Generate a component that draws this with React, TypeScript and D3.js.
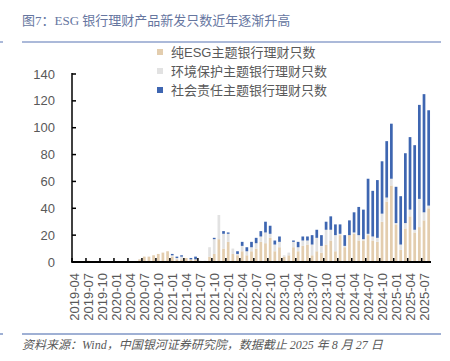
import React from "react";
import * as d3 from "d3";

// Months 2019-04 .. 2025-08
const months: string[] = [];
for (let y = 2019; y <= 2025; y++) {
  for (let m = 1; m <= 12; m++) {
    if (y === 2019 && m < 4) continue;
    if (y === 2025 && m > 8) continue;
    months.push(`${y}-${m < 10 ? "0" + m : m}`);
  }
}

// 纯ESG主题银行理财只数
const pureESG = [
  0, 0, 0, 1, 0, 0, 0, 0, 0, 0, 0, 0, 0, 0, 2, 4, 4, 5, 6, 7,
  8, 4, 2, 2, 3, 2, 2, 0, 0, 4, 6, 17, 10, 15, 6, 5, 8, 5, 8, 10,
  15, 14, 18, 8, 11, 4, 5, 11, 8, 12, 13, 5, 8, 7, 13, 16, 8, 20, 11, 20,
  21, 16, 16, 20, 16, 15, 30, 45, 57, 28, 9, 25, 34, 22, 26, 31, 40,
];
// 环境保护主题银行理财只数
const envProtect = [
  0, 0, 0, 0, 0, 0, 0, 0, 0, 0, 0, 0, 0, 0, 0, 0, 0, 0, 0, 0,
  0, 1, 1, 2, 0, 0, 0, 1, 1, 7, 11, 18, 11, 6, 4, 1, 4, 3, 3, 4,
  4, 8, 3, 5, 4, 1, 2, 4, 3, 4, 3, 8, 10, 5, 11, 8, 12, 1, 1, 0,
  1, 4, 1, 1, 3, 3, 6, 3, 5, 1, 4, 4, 5, 2, 21, 6, 2,
];
// 社会责任主题银行理财只数
const socialResp = [
  0, 0, 0, 0, 0, 0, 0, 0, 0, 0, 0, 0, 0, 0, 0, 0, 0, 0, 0, 0,
  0, 1, 1, 1, 0, 1, 2, 0, 0, 0, 1, 0, 2, 1, 0, 2, 3, 3, 4, 4,
  4, 8, 6, 3, 4, 0, 0, 1, 4, 3, 3, 7, 6, 8, 6, 10, 8, 7, 8, 11,
  15, 21, 22, 41, 34, 43, 39, 42, 41, 27, 36, 52, 54, 63, 70, 88, 71,
];

const seriesNames = ["纯ESG主题银行理财只数", "环境保护主题银行理财只数", "社会责任主题银行理财只数"];
const seriesKeys = ["pure", "env", "social"];
const seriesColors = ["#e3cdae", "#e2e2e2", "#3e66b1"];
const yTicks = [0, 20, 40, 60, 80, 100, 120, 140];

const W = 450;
const H = 361;
const L = 72;
const R = 431;
const T = 74;
const B = 262;

export default function App() {
  const rows = months.map((m, i) => ({
    month: m,
    pure: pureESG[i],
    env: envProtect[i],
    social: socialResp[i],
  }));
  const x = d3.scaleBand<string>().domain(months).range([L, R]).paddingInner(0.42).paddingOuter(0.21);
  const y = d3.scaleLinear().domain([0, 140]).range([B, T]);
  const stack = d3.stack<any>().keys(seriesKeys);
  const stacked = stack(rows);
  const step = x.step();
  const boundary = (m: string) => (x(m) as number) - step * 0.21;
  const labelMonths = months.filter((_, i) => i % 3 === 0);

  const sans = "'Liberation Sans', Arial, 'Noto Sans CJK SC', sans-serif";
  const serif = "'Liberation Serif', 'Times New Roman', 'Noto Sans CJK SC', serif";

  return (
    <svg width={W} height={H} style={{ position: "absolute", left: 0, top: 0, background: "#fff" }}>
      <rect x={0} y={0} width={W} height={H} fill="#fff" />
      {/* title */}
      <text x={22} y={25} fontFamily={serif} fontSize={13} fill="#66769f">
        图7：ESG 银行理财产品新发只数近年逐渐升高
      </text>
      <line x1={22} x2={441} y1={42} y2={42} stroke="#8fa2cc" strokeWidth={1.5} />
      <line x1={0} x2={3} y1={42} y2={42} stroke="#8fa2cc" strokeWidth={1.5} />

      {/* bars */}
      {stacked.map((s, si) => (
        <g key={seriesKeys[si]} fill={seriesColors[si]}>
          {s.map((d, i) => {
            const h = y(d[0]) - y(d[1]);
            if (h <= 0) return null;
            return (
              <rect
                key={i}
                x={x(months[i]) as number}
                y={y(d[1])}
                width={x.bandwidth()}
                height={h}
              />
            );
          })}
        </g>
      ))}

      {/* y axis */}
      <line x1={L} x2={L} y1={T - 1} y2={B} stroke="#000" strokeWidth={1.5} />
      {yTicks.map((t) => (
        <g key={t}>
          <line x1={L} x2={L + 4} y1={y(t)} y2={y(t)} stroke="#000" strokeWidth={1.5} />
          <text x={55} y={y(t)} dy="0.35em" textAnchor="end" fontFamily={sans} fontSize={13} fill="#595959">
            {t}
          </text>
        </g>
      ))}

      {/* x axis */}
      <line x1={L - 0.75} x2={R} y1={B} y2={B} stroke="#000" strokeWidth={2} />
      {labelMonths.map((m) => (
        <line key={"t" + m} x1={boundary(m)} x2={boundary(m)} y1={B} y2={B - 4} stroke="#000" strokeWidth={1.5} />
      ))}
      {labelMonths.map((m) => (
        <text
          key={"l" + m}
          transform={`translate(${(x(m) as number) + x.bandwidth() / 2},273) rotate(-90)`}
          dy="0.35em"
          textAnchor="end"
          fontFamily={sans}
          fontSize={13}
          fill="#595959"
        >
          {m}
        </text>
      ))}

      {/* legend */}
      {seriesNames.map((n, i) => (
        <g key={n} transform={`translate(157,${52 + i * 19})`}>
          <rect x={0} y={-3} width={6} height={6} fill={seriesColors[i]} />
          <text x={14} y={0} dy="0.35em" fontFamily={sans} fontSize={13} fill="#595959">
            {n}
          </text>
        </g>
      ))}

      {/* source */}
      <line x1={22} x2={441} y1={334} y2={334} stroke="#7f96c6" strokeWidth={1.5} />
      <line x1={0} x2={3} y1={334} y2={334} stroke="#7f96c6" strokeWidth={1.5} />
      <text x={22} y={349} fontFamily={serif} fontStyle="italic" fontSize={12} fill="#595959">
        资料来源：Wind，中国银河证券研究院，数据截止 2025 年 8 月 27 日
      </text>
    </svg>
  );
}
